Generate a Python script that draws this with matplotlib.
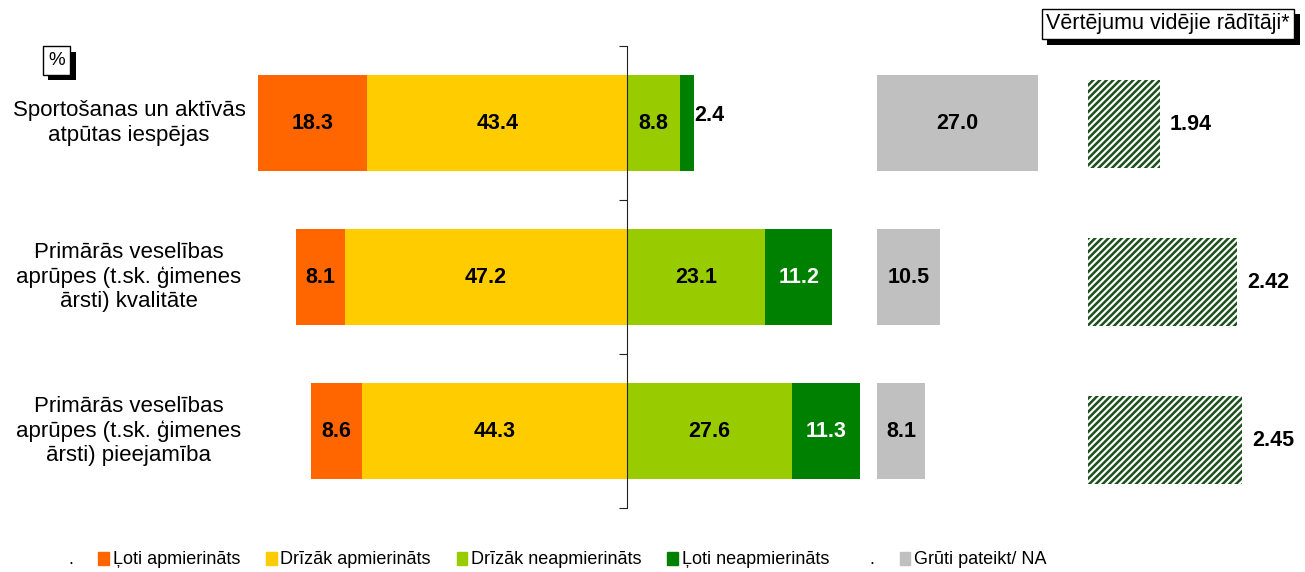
import numpy as np
import matplotlib
matplotlib.use('Agg')
import matplotlib.pyplot as plt
import matplotlib.patheffects as pe
from matplotlib.patches import Patch
from matplotlib.transforms import blended_transform_factory

plt.rcParams['font.family'] = ['Liberation Sans', 'DejaVu Sans']
plt.rcParams['hatch.linewidth'] = 1.8

categories = ['Sportošanas un aktīvās\natpūtas iespējas',
              'Primārās veselības\naprūpes (t.sk. ģimenes\nārsti) kvalitāte',
              'Primārās veselības\naprūpes (t.sk. ģimenes\nārsti) pieejamība']
very_sat = [18.3, 8.1, 8.6]
rather_sat = [43.4, 47.2, 44.3]
rather_unsat = [8.8, 23.1, 27.6]
very_unsat = [2.4, 11.2, 11.3]
hard_to_say = [27.0, 10.5, 8.1]
mean_scores = [1.94, 2.42, 2.45]
legend_labels = ['Ļoti apmierināts', 'Drīzāk apmierināts', 'Drīzāk neapmierināts',
                 'Ļoti neapmierināts', 'Grūti pateikt/ NA']
mean_title = 'Vērtējumu vidējie rādītāji*'

c_vsat, c_rsat, c_runsat, c_vunsat, c_na = '#FF6600', '#FFCC00', '#99CC00', '#008000', '#C0C0C0'
c_hatch = '#1B4F1B'

W, H = 1305, 572
fig = plt.figure(figsize=(W / 100, H / 100), dpi=100)

def px_axes(x0, x1, y0, y1):
    # pixel box (top-left origin) -> figure axes
    return fig.add_axes([x0 / W, (H - y1) / H, (x1 - x0) / W, (y1 - y0) / H])

pct = 5.98          # pixels per percent
zero_px = 627
ax1 = px_axes(240, 870, 46, 508)
ax1.set_xlim(-(zero_px - 240) / pct, (870 - zero_px) / pct)
ax2 = px_axes(877, 1047, 46, 508)
ax2.set_xlim(0, 170 / pct)
ax3 = px_axes(1088, 1288, 45, 519)
ax3.set_xlim(1.5, 1.5 + 200 / 162.5)

y = np.arange(len(categories))
vs, rs = np.array(very_sat), np.array(rather_sat)
ru, vu = np.array(rather_unsat), np.array(very_unsat)
h = 0.62
fs_val = 15.5

def seg_label(ax, x, yy, val, color='black'):
    ax.text(x, yy, f'{val:.1f}', ha='center', va='center', fontsize=fs_val,
            fontweight='bold', color=color)

ax1.barh(y, -rs, height=h, color=c_rsat)
ax1.barh(y, -vs, left=-rs, height=h, color=c_vsat)
ax1.barh(y, ru, height=h, color=c_runsat)
ax1.barh(y, vu, left=ru, height=h, color=c_vunsat)
for i in y:
    seg_label(ax1, -rs[i] - vs[i] / 2, i, vs[i])
    seg_label(ax1, -rs[i] / 2, i, rs[i])
    seg_label(ax1, ru[i] / 2, i, ru[i])
    if vu[i] < 4:
        ax1.text(ru[i] + vu[i], i - 0.05, f'{vu[i]:.1f}', ha='left', va='center',
                 fontsize=fs_val, fontweight='bold')
    else:
        seg_label(ax1, ru[i] + vu[i] / 2, i, vu[i], 'white')

ax2.barh(y, hard_to_say, height=h, color=c_na)
for i in y:
    seg_label(ax2, hard_to_say[i] / 2, i, hard_to_say[i])

ax3.barh(y, np.array(mean_scores) - 1.5, left=1.5, height=0.56, color='white',
         edgecolor=c_hatch, hatch='/////', linewidth=0)
for i in y:
    ax3.annotate(f'{mean_scores[i]:.2f}', (mean_scores[i], i), xytext=(7, 0),
                 textcoords='offset points', ha='left', va='center',
                 fontsize=fs_val, fontweight='bold')

for ax in (ax1, ax2, ax3):
    ax.set_ylim(len(categories) - 0.5, -0.5)
    ax.set_xticks([])
    for s in ax.spines.values():
        s.set_visible(False)
for ax in (ax2, ax3):
    ax.set_yticks([])

ax1.spines['left'].set_visible(True)
ax1.spines['left'].set_position(('data', 0))
ax1.spines['left'].set_color('#222222')
ax1.set_yticks(np.arange(len(categories) + 1) - 0.5)
ax1.set_yticklabels([])
ax1.tick_params(axis='y', length=6, direction='out', color='#222222')

tr = blended_transform_factory(fig.transFigure, ax1.transData)
for i, cat in enumerate(categories):
    ax1.text(129 / W, i, cat, transform=tr, ha='center', va='center',
             multialignment='center', fontsize=16, linespacing=1.22)

shadow = [pe.SimplePatchShadow(offset=(4, -4), shadow_rgbFace='black', alpha=1), pe.Normal()]
t = fig.text(1168 / W, 1 - 24 / H, mean_title, ha='center', va='center', fontsize=15.5,
             bbox=dict(boxstyle='square,pad=0.22', fc='white', ec='black', lw=1))
t.get_bbox_patch().set_path_effects(shadow)
t = fig.text(56.5 / W, 1 - 60.5 / H, '%', ha='center', va='center', fontsize=13.5,
             bbox=dict(boxstyle='square,pad=0.3', fc='white', ec='black', lw=1))
t.get_bbox_patch().set_path_effects(shadow)

blank = Patch(facecolor='none', edgecolor='none')
handles = [blank, Patch(color=c_vsat), Patch(color=c_rsat), Patch(color=c_runsat),
           Patch(color=c_vunsat), blank, Patch(color=c_na)]
labels = ['.'] + legend_labels[:4] + ['.'] + legend_labels[4:]
fig.legend(handles, labels, loc='center', bbox_to_anchor=(550 / W, 1 - 560 / H), ncol=7,
           frameon=False, fontsize=13, handlelength=0.6, handleheight=0.7,
           handletextpad=0.2, columnspacing=1.42)

fig.savefig('out.png', dpi=100)
